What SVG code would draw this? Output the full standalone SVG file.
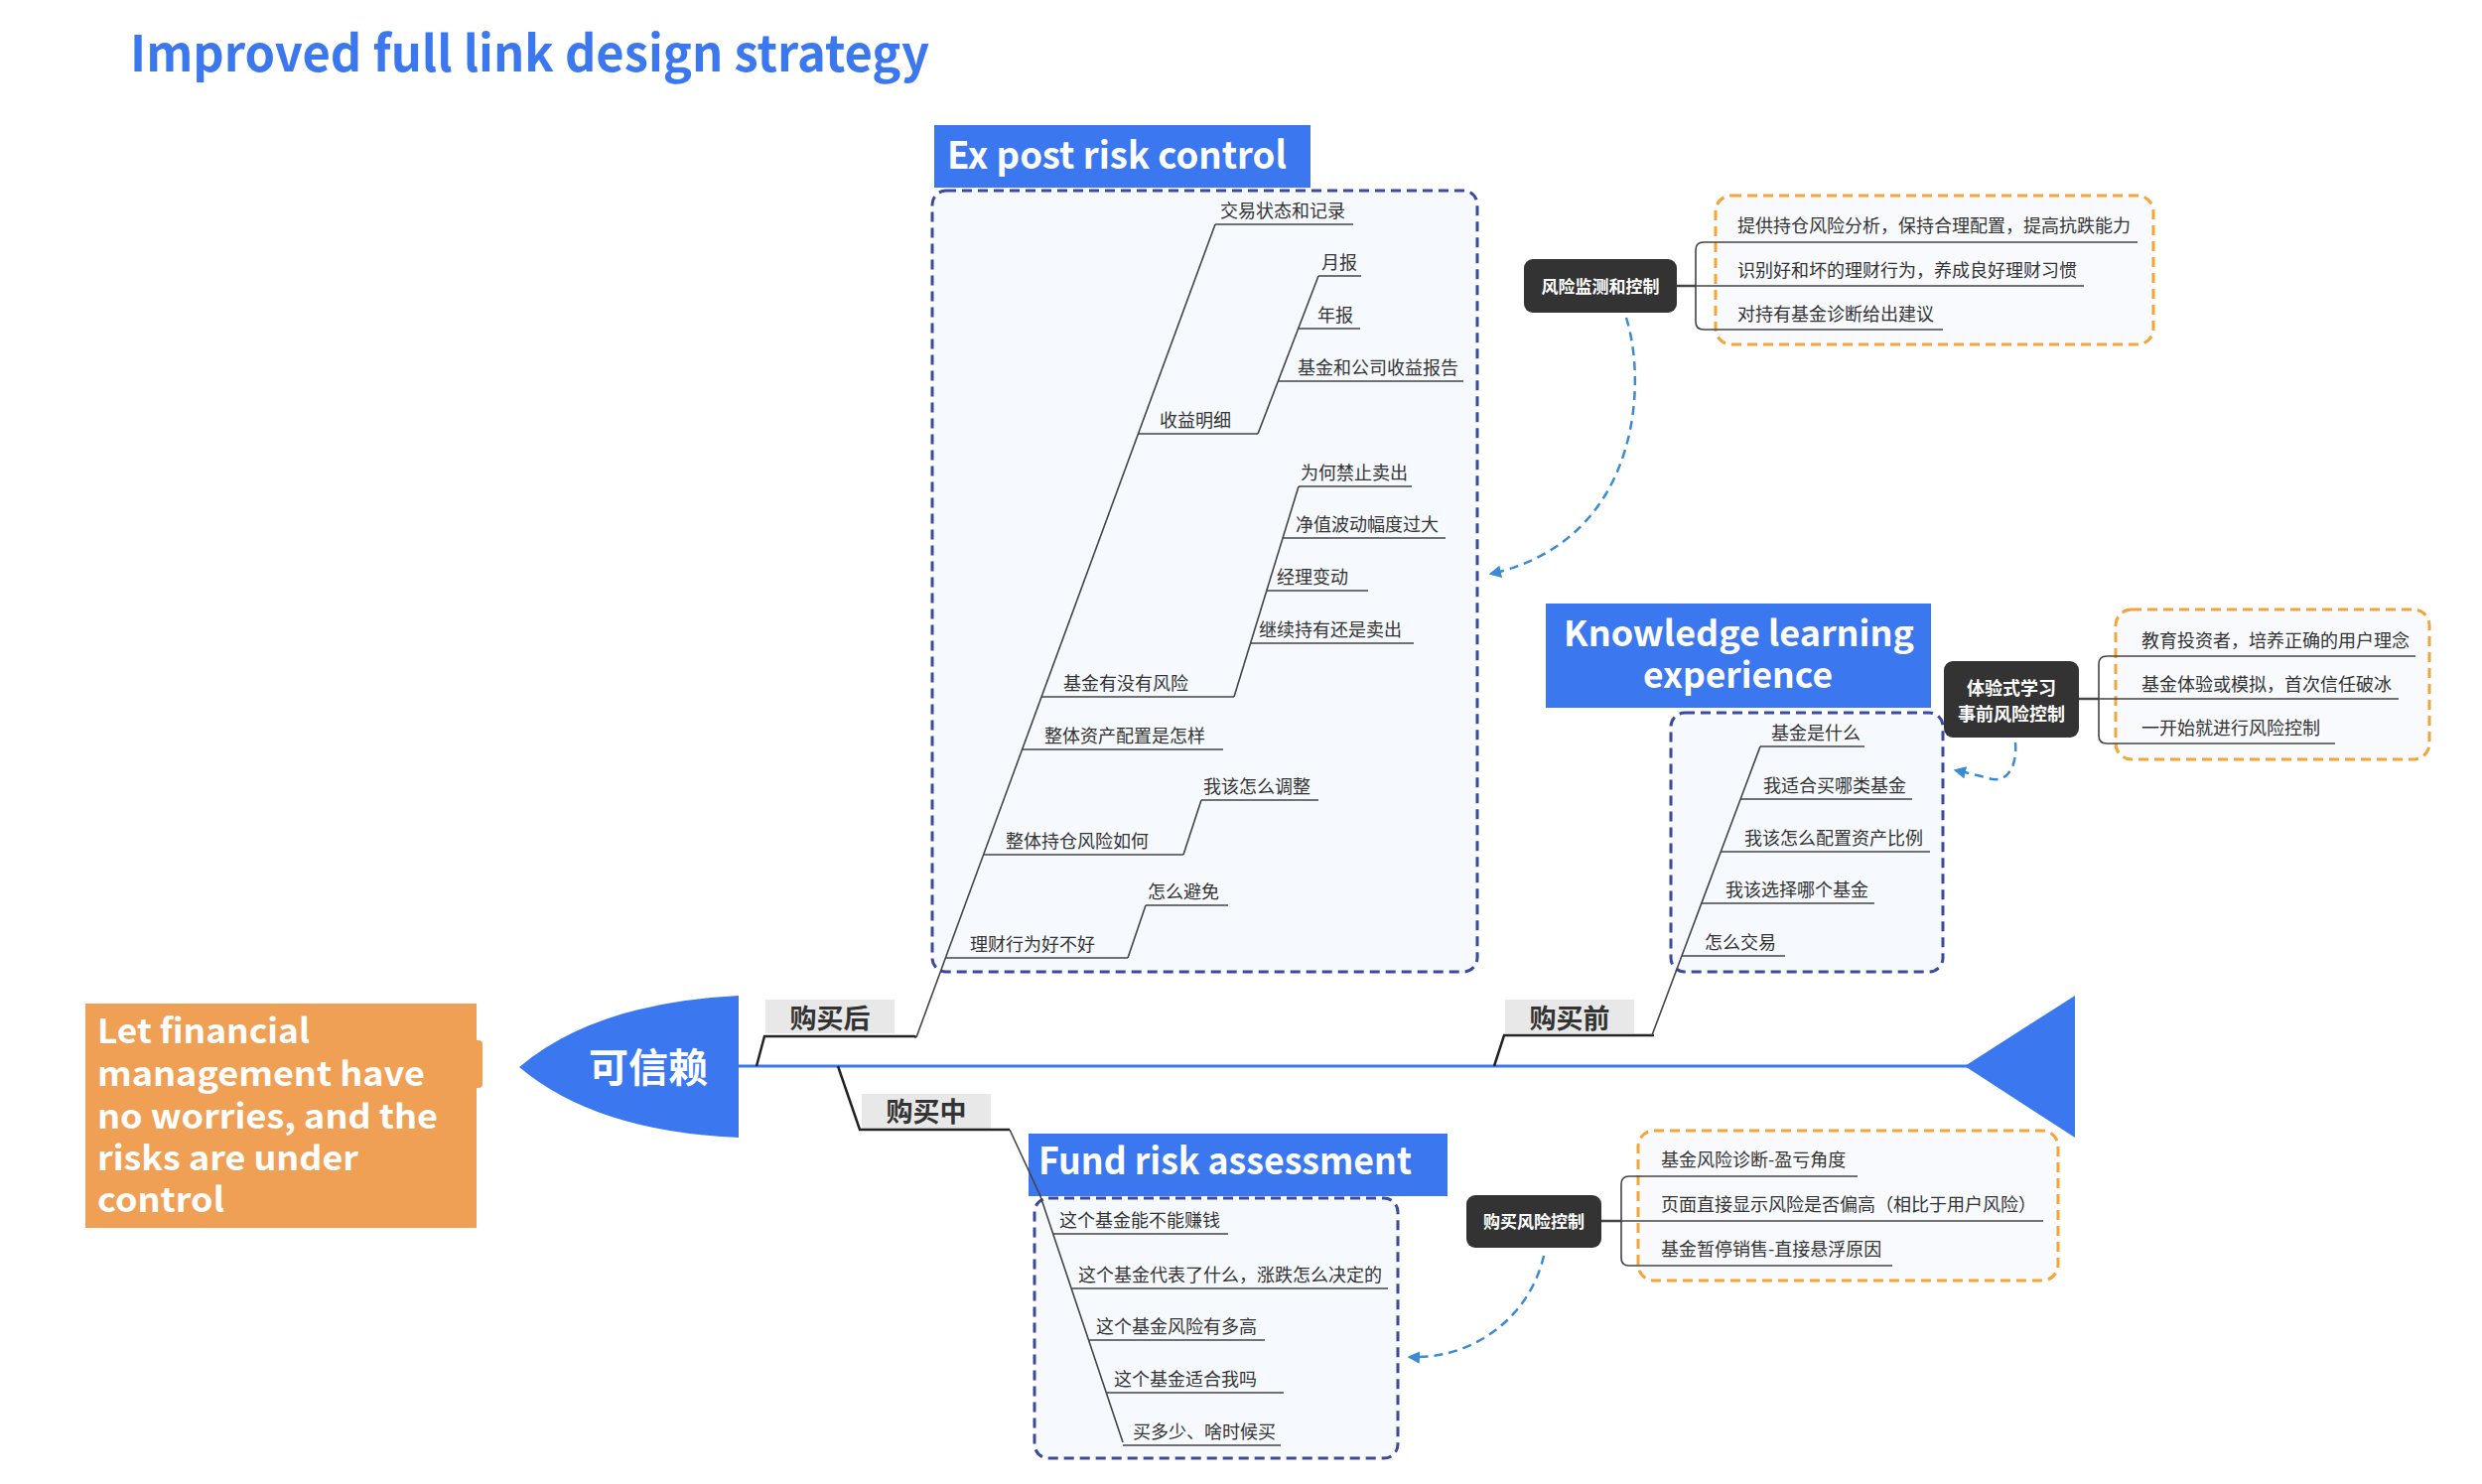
<svg xmlns="http://www.w3.org/2000/svg" width="2500" height="1495" viewBox="0 0 2500 1495">
<defs>
<style>
.t{font-family:"Noto Sans CJK SC","Noto Sans",sans-serif;font-size:18px;fill:#333}
.h{font-family:"Noto Sans CJK SC","Noto Sans",sans-serif;font-weight:bold;fill:#fff}
.ul{stroke:#444;stroke-width:1.6;fill:none}
.bx{fill:#f6f9fd;stroke:#3a4aa0;stroke-width:3;stroke-dasharray:10,6}
.ob{fill:#f8fafd;stroke:#f4a535;stroke-width:3;stroke-dasharray:10,6}
.blk{fill:#333}
.lbl{fill:#e8e8e8}
.lt{font-family:"Noto Sans CJK SC",sans-serif;font-weight:bold;font-size:27px;fill:#333}
.arr{stroke:#3a8ad4;stroke-width:2.5;fill:none;stroke-dasharray:9,6}
</style>
<marker id="ah" viewBox="0 0 10 10" refX="8" refY="5" markerWidth="5" markerHeight="5" orient="auto"><path d="M0,0 L10,5 L0,10 Z" fill="#3a8ad4"/></marker>
</defs>
<rect width="2500" height="1495" fill="#fff"/>
<text id="title" x="131" y="72" class="h" style="fill:#3b78f0;font-size:50px" textLength="805" lengthAdjust="spacingAndGlyphs">Improved full link design strategy</text>

<g id="boxes">
<rect class="bx" x="939" y="192" width="549" height="787" rx="14"/>
<rect class="bx" x="1683" y="718" width="274" height="261" rx="14"/>
<rect class="bx" x="1042" y="1207" width="366" height="262" rx="14"/>
<rect class="ob" x="1728" y="197" width="441" height="150" rx="16"/>
<rect class="ob" x="2131" y="614" width="316" height="151" rx="16"/>
<rect class="ob" x="1650" y="1139" width="423" height="151" rx="16"/>
</g>

<g id="spine">
<line x1="744" y1="1074" x2="1984" y2="1074" stroke="#3b78f0" stroke-width="3"/>
<path d="M744,1003 Q600,1010 523,1075 Q600,1140 744,1146 Z" fill="#3b78f0"/>
<text x="653" y="1090" class="h" style="font-size:40px" text-anchor="middle">可信赖</text>
<path d="M1979,1074 L2090,1003 L2090,1146 Z" fill="#3b78f0"/>
</g>

<g id="goal">
<rect x="476" y="1048" width="10" height="48" rx="4" fill="#f0a055"/>
<rect x="86" y="1011" width="394" height="226" fill="#f0a055"/>
<g class="h" style="font-size:34px">
<text x="98" y="1051" textLength="214" lengthAdjust="spacingAndGlyphs">Let financial</text>
<text x="98" y="1094" textLength="330" lengthAdjust="spacingAndGlyphs">management have</text>
<text x="98" y="1137" textLength="343" lengthAdjust="spacingAndGlyphs">no worries, and the</text>
<text x="98" y="1179" textLength="263" lengthAdjust="spacingAndGlyphs">risks are under</text>
<text x="98" y="1221" textLength="128" lengthAdjust="spacingAndGlyphs">control</text>
</g>
</g>

<g id="headers">
<rect x="941" y="126" width="379" height="63" fill="#3b78f0"/>
<text x="954" y="170" class="h" style="font-size:38px" textLength="342" lengthAdjust="spacingAndGlyphs">Ex post risk control</text>
<rect x="1557" y="608" width="388" height="105" fill="#3b78f0"/>
<text x="1575" y="651" class="h" style="font-size:35px" textLength="353" lengthAdjust="spacingAndGlyphs">Knowledge learning</text>
<text x="1655" y="693" class="h" style="font-size:35px" textLength="191" lengthAdjust="spacingAndGlyphs">experience</text>
<rect x="1036" y="1142" width="422" height="63" fill="#3b78f0"/>
<text x="1046" y="1183" class="h" style="font-size:38px" textLength="376" lengthAdjust="spacingAndGlyphs">Fund risk assessment</text>
</g>

<g id="labels">
<rect class="lbl" x="771" y="1007" width="130" height="34"/>
<text x="836" y="1036" class="lt" text-anchor="middle">购买后</text>
<rect class="lbl" x="868" y="1102" width="130" height="35"/>
<text x="933" y="1130" class="lt" text-anchor="middle">购买中</text>
<rect class="lbl" x="1516" y="1007" width="130" height="34"/>
<text x="1581" y="1036" class="lt" text-anchor="middle">购买前</text>
</g>

<g id="connectors">
<polyline class="ul" style="stroke:#222;stroke-width:2.5" points="762,1074 770,1044 921,1044 923,1045"/>
<polyline class="ul" style="stroke:#222;stroke-width:2.5" points="844,1074 866,1138 1017,1138"/>
<polyline class="ul" style="stroke:#222;stroke-width:2.5" points="1505,1074 1515,1043 1666,1043"/>
<line class="ul" x1="923" y1="1045" x2="1224" y2="226"/>
<line class="ul" x1="1267" y1="437" x2="1328" y2="278"/>
<line class="ul" x1="1243" y1="702" x2="1308" y2="490"/>
<line class="ul" x1="1192" y1="861" x2="1210" y2="806"/>
<line class="ul" x1="1136" y1="965" x2="1154" y2="912"/>
<line class="ul" x1="1664" y1="1043" x2="1773" y2="752"/>
<polyline class="ul" points="1017,1138 1048,1205 1131,1453"/>
<line class="ul" style="stroke-width:2.5" x1="1689" y1="288" x2="1708" y2="288"/>
<path class="ul" d="M1740,244 H1716 Q1708,244 1708,252 V324 Q1708,332 1716,332 H1740 M1708,288 H1740"/>
<line class="ul" style="stroke-width:2.5" x1="2094" y1="704" x2="2114" y2="704"/>
<path class="ul" d="M2145,661 H2122 Q2114,661 2114,669 V741 Q2114,749 2122,749 H2145 M2114,704 H2145"/>
<line class="ul" style="stroke-width:2.5" x1="1613" y1="1230" x2="1633" y2="1230"/>
<path class="ul" d="M1663,1185 H1641 Q1633,1185 1633,1193 V1267 Q1633,1275 1641,1275 H1663 M1633,1230 H1663"/>
<path class="arr" marker-end="url(#ah)" d="M1638,320 C1660,390 1650,545 1502,578"/>
<path class="arr" marker-end="url(#ah)" d="M2030,748 C2032,772 2022,792 2000,783 L1970,776"/>
<path class="arr" marker-end="url(#ah)" d="M1555,1265 C1540,1330 1480,1370 1420,1367"/>
</g>

<g id="expost-items">
<path class="ul" d="M1224,226 H1363 M1146,437 H1267 M1049,702 H1243 M1030,755 H1232 M991,861 H1192 M952,965 H1136 M1328,278 H1371 M1308,331 H1370 M1287,384 H1474 M1308,490 H1422 M1292,542 H1456 M1276,595 H1378 M1260,648 H1424 M1210,806 H1328 M1154,912 H1237"/>
<text class="t" x="1229" y="219">交易状态和记录</text>
<text class="t" x="1168" y="430">收益明细</text>
<text class="t" x="1071" y="695">基金有没有风险</text>
<text class="t" x="1052" y="748">整体资产配置是怎样</text>
<text class="t" x="1013" y="854">整体持仓风险如何</text>
<text class="t" x="977" y="958">理财行为好不好</text>
<text class="t" x="1331" y="271">月报</text>
<text class="t" x="1327" y="324">年报</text>
<text class="t" x="1307" y="377">基金和公司收益报告</text>
<text class="t" x="1310" y="483">为何禁止卖出</text>
<text class="t" x="1305" y="535">净值波动幅度过大</text>
<text class="t" x="1286" y="588">经理变动</text>
<text class="t" x="1268" y="641">继续持有还是卖出</text>
<text class="t" x="1212" y="799">我该怎么调整</text>
<text class="t" x="1156" y="905">怎么避免</text>
</g>

<g id="knowledge-items">
<path class="ul" d="M1773,752 H1878 M1753,805 H1926 M1733,858 H1944 M1714,910 H1888 M1694,963 H1798"/>
<text class="t" x="1784" y="745">基金是什么</text>
<text class="t" x="1776" y="798">我适合买哪类基金</text>
<text class="t" x="1757" y="851">我该怎么配置资产比例</text>
<text class="t" x="1738" y="903">我该选择哪个基金</text>
<text class="t" x="1717" y="956">怎么交易</text>
</g>

<g id="fund-items">
<path class="ul" d="M1061,1243 H1237 M1080,1298 H1398 M1097,1350 H1274 M1114,1403 H1293 M1131,1456 H1290"/>
<text class="t" x="1067" y="1236">这个基金能不能赚钱</text>
<text class="t" x="1086" y="1291">这个基金代表了什么，涨跌怎么决定的</text>
<text class="t" x="1104" y="1343">这个基金风险有多高</text>
<text class="t" x="1122" y="1396">这个基金适合我吗</text>
<text class="t" x="1141" y="1449">买多少、啥时候买</text>
</g>

<g id="node-monitor">
<rect class="blk" x="1535" y="261" width="154" height="54" rx="9"/>
<text x="1612" y="295" class="h" style="font-size:17px" text-anchor="middle">风险监测和控制</text>
<path class="ul" d="M1740,244 H2153 M1740,288 H2099 M1740,332 H1957"/>
<text class="t" x="1750" y="234">提供持仓风险分析，保持合理配置，提高抗跌能力</text>
<text class="t" x="1750" y="279">识别好和坏的理财行为，养成良好理财习惯</text>
<text class="t" x="1750" y="323">对持有基金诊断给出建议</text>
</g>

<g id="node-experience">
<rect class="blk" x="1958" y="666" width="136" height="77" rx="9"/>
<text x="2026" y="700" class="h" style="font-size:18px" text-anchor="middle">体验式学习</text>
<text x="2026" y="726" class="h" style="font-size:18px" text-anchor="middle">事前风险控制</text>
<path class="ul" d="M2145,661 H2433 M2145,704 H2416 M2145,749 H2352"/>
<text class="t" x="2157" y="652">教育投资者，培养正确的用户理念</text>
<text class="t" x="2157" y="696">基金体验或模拟，首次信任破冰</text>
<text class="t" x="2157" y="740">一开始就进行风险控制</text>
</g>

<g id="node-purchase">
<rect class="blk" x="1477" y="1204" width="136" height="53" rx="9"/>
<text x="1545" y="1237" class="h" style="font-size:17px" text-anchor="middle">购买风险控制</text>
<path class="ul" d="M1663,1185 H1871 M1663,1230 H2058 M1663,1275 H1906"/>
<text class="t" x="1673" y="1175">基金风险诊断-盈亏角度</text>
<text class="t" x="1673" y="1220">页面直接显示风险是否偏高（相比于用户风险）</text>
<text class="t" x="1673" y="1265">基金暂停销售-直接悬浮原因</text>
</g>
</svg>
